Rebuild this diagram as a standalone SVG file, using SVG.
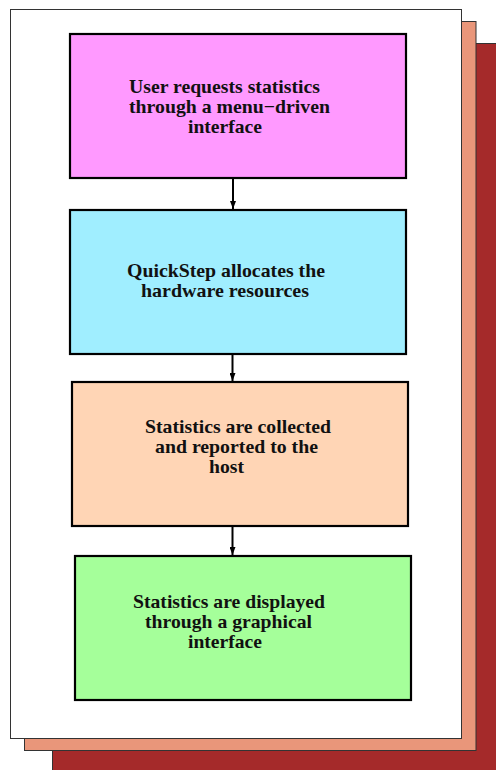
<svg xmlns="http://www.w3.org/2000/svg" width="496" height="770" viewBox="0 0 496 770">
<style>
.page{stroke:#333;stroke-width:1}
.box{stroke:#000;stroke-width:2.2}
.lbl{font-family:"Liberation Serif","Times New Roman",serif;font-weight:bold;font-size:19px;fill:#111}
.conn{stroke:#000;stroke-width:2;fill:none}
</style>
<defs>
<marker id="ah" viewBox="0 0 8 6" refX="8" refY="3" markerWidth="8" markerHeight="6" markerUnits="userSpaceOnUse" orient="auto">
<path d="M0,0 L8,3 L0,6 Z" fill="#000"/>
</marker>
</defs>
<rect width="496" height="770" fill="#fff"/>
<g id="pages">
<rect class="page" x="52.5" y="43.5" width="450" height="740" fill="#a52a2a"/>
<rect class="page" x="24.5" y="21.5" width="451.5" height="729" fill="#e9967a"/>
<rect class="page" x="10.5" y="9.5" width="451" height="729" fill="#fff"/>
</g>
<g id="node1">
<rect class="box" x="70" y="34" width="336" height="144" fill="#ff99ff"/>
<text class="lbl" x="129" y="93" textLength="191" lengthAdjust="spacingAndGlyphs">User requests statistics</text>
<text class="lbl" x="129" y="113" textLength="201" lengthAdjust="spacingAndGlyphs">through a menu−driven</text>
<text class="lbl" x="188" y="133" textLength="74" lengthAdjust="spacingAndGlyphs">interface</text>
</g>
<g id="node2">
<rect class="box" x="70" y="210" width="336" height="144" fill="#a0eeff"/>
<text class="lbl" x="127" y="277" textLength="198" lengthAdjust="spacingAndGlyphs">QuickStep allocates the</text>
<text class="lbl" x="141" y="297" textLength="168" lengthAdjust="spacingAndGlyphs">hardware resources</text>
</g>
<g id="node3">
<rect class="box" x="72" y="382" width="336" height="144" fill="#ffd5b5"/>
<text class="lbl" x="145" y="433" textLength="186" lengthAdjust="spacingAndGlyphs">Statistics are collected</text>
<text class="lbl" x="155" y="453" textLength="163" lengthAdjust="spacingAndGlyphs">and reported to the</text>
<text class="lbl" x="209" y="473" textLength="35" lengthAdjust="spacingAndGlyphs">host</text>
</g>
<g id="node4">
<rect class="box" x="75" y="556" width="336" height="144" fill="#a5ff9a"/>
<text class="lbl" x="133" y="608" textLength="192" lengthAdjust="spacingAndGlyphs">Statistics are displayed</text>
<text class="lbl" x="145" y="628" textLength="167" lengthAdjust="spacingAndGlyphs">through a graphical</text>
<text class="lbl" x="188" y="648" textLength="74" lengthAdjust="spacingAndGlyphs">interface</text>
</g>
<g id="connectors">
<line class="conn" x1="233" y1="179" x2="233" y2="209" marker-end="url(#ah)"/>
<line class="conn" x1="232.5" y1="355" x2="232.5" y2="381" marker-end="url(#ah)"/>
<line class="conn" x1="232.5" y1="527" x2="232.5" y2="555" marker-end="url(#ah)"/>
</g>
</svg>
